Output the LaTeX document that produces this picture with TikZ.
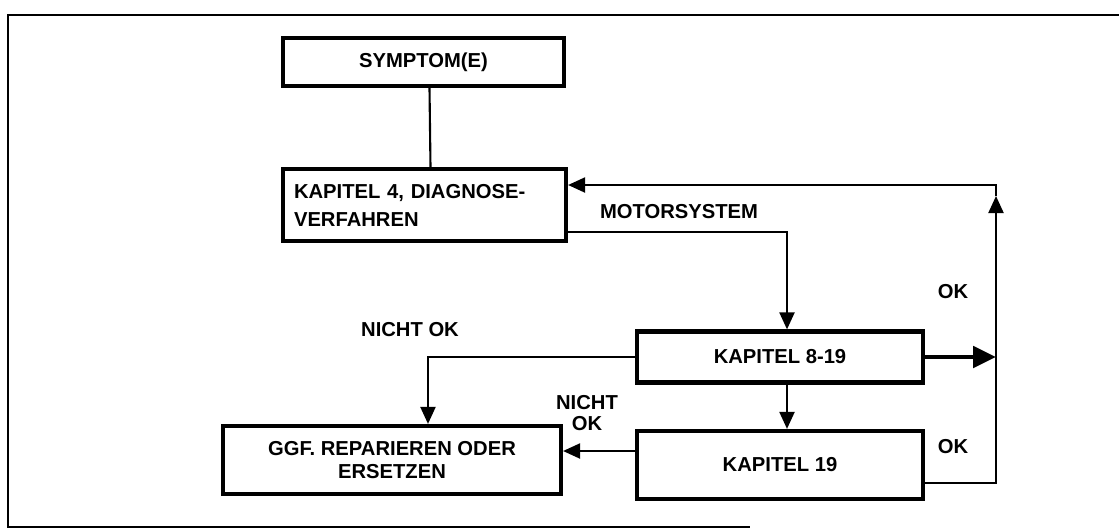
\documentclass[tikz,border=0pt]{standalone}
\usepackage{fontspec}
\setmainfont{Liberation Sans}
\usetikzlibrary{arrows.meta}

\begin{document}
\begin{tikzpicture}[x=0.02cm, y=-0.02cm,
    box/.style={draw, line width=2.4pt, font=\bfseries\fontsize{11.5}{13}\selectfont, inner sep=0pt},
    conn/.style={line width=1.2pt},
    arr/.style={conn, -{Triangle[length=0.34cm, width=0.3cm]}},
    bigarr/.style={line width=2.8pt, -{Triangle[length=0.46cm, width=0.42cm]}},
    lab/.style={font=\bfseries\fontsize{11.5}{13}\selectfont, inner sep=0pt}]
        \useasboundingbox (0,0) rectangle (1119,531);

        % Draw the outer frame
        \draw[line width=1.6pt] (1119,15) -- (8,15) -- (8,527) -- (750,527);

        % Draw the boxes
        \node[box, minimum width=5.62cm, minimum height=0.96cm] (sym) at (423.5,62) {SYMPTOM(E)};
        \node[box, minimum width=5.66cm, minimum height=1.44cm, text width=5.22cm, align=left,
              font=\bfseries\fontsize{11.5}{15.9}\selectfont] (kap4) at (424.5,205)
              {KAPITEL 4, DIAGNOSE-\\VERFAHREN};
        \node[box, minimum width=5.72cm, minimum height=1.02cm] (k819) at (780,357) {KAPITEL 8-19};
        \node[box, minimum width=5.72cm, minimum height=1.36cm] (k19) at (780,465) {KAPITEL 19};
        \node[box, minimum width=6.76cm, minimum height=1.36cm, align=center,
              font=\bfseries\fontsize{11.5}{12.8}\selectfont] (ggf) at (392,460)
              {GGF. REPARIEREN ODER\\ERSETZEN};

        % Points on the way back
        \coordinate (rt) at (996,483);
        \coordinate (up) at (996,196);
        \coordinate (nk) at ([yshift=0.28cm]k19.west);

        % Draw the connectors
        \draw[conn] ([xshift=0.12cm]sym.south) -- ([xshift=0.12cm]kap4.north);
        \draw[arr] ([yshift=-0.54cm]kap4.east) -| ([xshift=0.14cm]k819.north);
        \draw[arr] ([xshift=0.14cm]k819.south) -- ([xshift=0.14cm]k19.north);
        \draw[bigarr] (k819.east) -- (k819.east -| rt);
        \draw[arr] ([yshift=-0.36cm]k19.east) -| (up);
        \draw[arr] (up) |- ([yshift=0.4cm]kap4.east);
        \draw[arr] (k819.west) -| ([xshift=0.72cm]ggf.north);
        \draw[arr] (nk) -- (nk -| ggf.east);

        % Label the connectors
        \node[lab] (motor) at (679,212) {MOTORSYSTEM};
        \node[lab] (ok1) at (953,292) {OK};
        \node[lab] (ok2) at (953,447) {OK};
        \node[lab] (nok1) at (410,330) {NICHT OK};
        \node[lab, align=center, font=\bfseries\fontsize{11.5}{12}\selectfont] (nok2) at (587,413) {NICHT\\OK};
    \end{tikzpicture}
\end{document}
